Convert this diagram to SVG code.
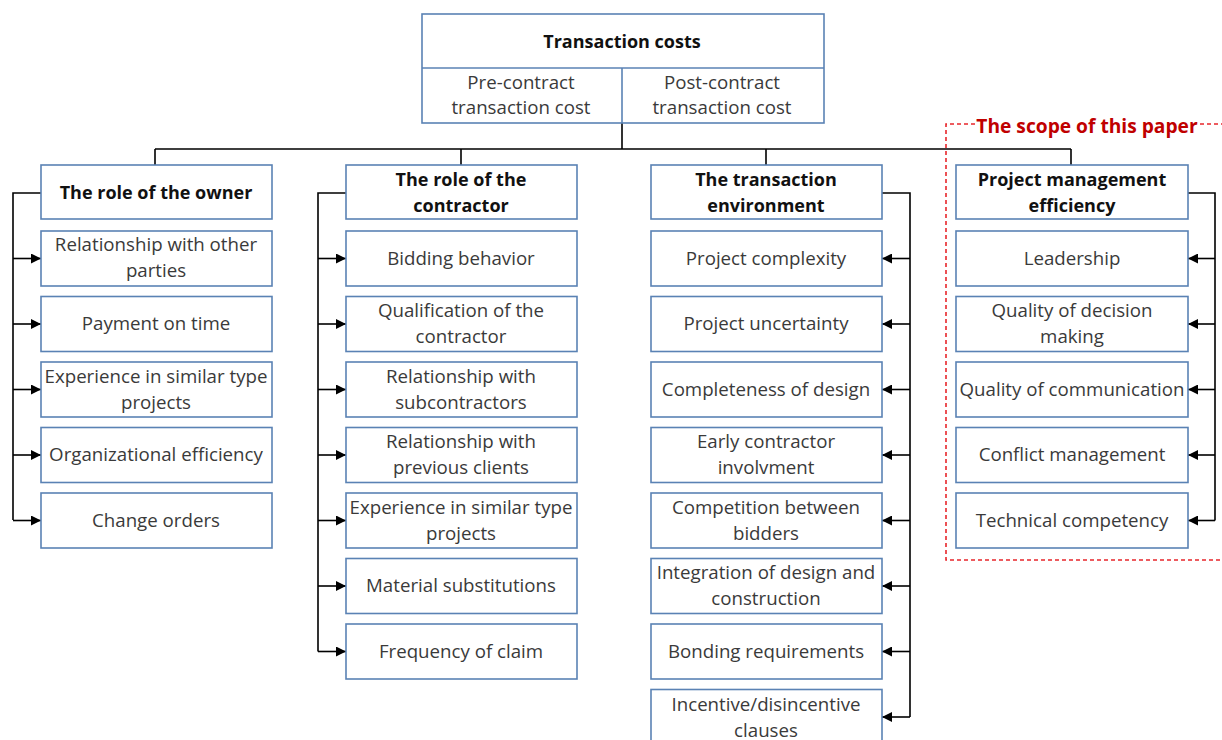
<svg xmlns="http://www.w3.org/2000/svg" width="1222" height="740" viewBox="0 0 1222 740">
<style>
.box{fill:#fff;stroke:#5a82b4;stroke-width:1.6}
.t{font-family:"Open Sans","Liberation Sans",Arial,sans-serif;font-size:18.7px;fill:#3a3a3a;text-anchor:middle}
.h{font-family:"Open Sans","Liberation Sans",Arial,sans-serif;font-size:18px;font-weight:bold;fill:#111;text-anchor:middle}
.c{fill:none;stroke:#000;stroke-width:1.6}
.a{fill:none;stroke:#000;stroke-width:1.6;marker-end:url(#arr)}
</style>
<defs>
<marker id="arr" viewBox="0 0 10 10" refX="10" refY="5" markerWidth="11" markerHeight="10" markerUnits="userSpaceOnUse" orient="auto">
<path d="M0,0 L10,5 L0,10 Z" fill="#000"/>
</marker>
</defs>
<rect width="1222" height="740" fill="#fff"/>

<g id="scope">
<path d="M975,124 L946,124 L946,560 L1222,560" fill="none" stroke="#e8262b" stroke-width="1.6" stroke-dasharray="4,3"/>
<path d="M1200,124 L1222,124" fill="none" stroke="#e8262b" stroke-width="1.6" stroke-dasharray="4,3"/>
<text x="1087" y="133" font-family="Open Sans,Liberation Sans,Arial,sans-serif" font-size="19.2" font-weight="bold" fill="#c00000" text-anchor="middle">The scope of this paper</text>
</g>

<g id="connectors">
<path class="c" d="M622,123 V149 M155,149 H1071 M155,149 V165 M461,149 V165 M766,149 V165 M1071,149 V165"/>
<path class="c" d="M41,193 H13 V520"/>
<path class="a" d="M13,258.5 H41"/>
<path class="a" d="M13,324 H41"/>
<path class="a" d="M13,389.5 H41"/>
<path class="a" d="M13,455 H41"/>
<path class="a" d="M13,520.5 H41"/>
<path class="c" d="M346,193 H318 V651.5"/>
<path class="a" d="M318,258.5 H346"/>
<path class="a" d="M318,324 H346"/>
<path class="a" d="M318,389.5 H346"/>
<path class="a" d="M318,455 H346"/>
<path class="a" d="M318,520.5 H346"/>
<path class="a" d="M318,586 H346"/>
<path class="a" d="M318,651.5 H346"/>
<path class="c" d="M882,193 H910 V717"/>
<path class="a" d="M910,258.5 H882"/>
<path class="a" d="M910,324 H882"/>
<path class="a" d="M910,389.5 H882"/>
<path class="a" d="M910,455 H882"/>
<path class="a" d="M910,520.5 H882"/>
<path class="a" d="M910,586 H882"/>
<path class="a" d="M910,651.5 H882"/>
<path class="a" d="M910,717 H882"/>
<path class="c" d="M1188,193 H1215 V520.5"/>
<path class="a" d="M1215,258.5 H1188"/>
<path class="a" d="M1215,324 H1188"/>
<path class="a" d="M1215,389.5 H1188"/>
<path class="a" d="M1215,455 H1188"/>
<path class="a" d="M1215,520.5 H1188"/>
</g>

<g id="root">
<rect class="box" x="422" y="14" width="402" height="109"/>
<line x1="422" y1="68" x2="824" y2="68" stroke="#5a82b4" stroke-width="1.6"/>
<line x1="622" y1="68" x2="622" y2="123" stroke="#5a82b4" stroke-width="1.6"/>
<text class="h" x="622" y="48">Transaction costs</text>
<text class="t" x="521" y="89">Pre-contract</text>
<text class="t" x="521" y="114">transaction cost</text>
<text class="t" x="722" y="89">Post-contract</text>
<text class="t" x="722" y="114">transaction cost</text>
</g>

<!-- column 1 -->
<g id="owner"><rect class="box" x="41" y="165" width="231" height="54"/><text class="h" x="156" y="199">The role of the owner</text></g>
<g id="o1"><rect class="box" x="41" y="231" width="231" height="55"/><text class="t" x="156" y="251">Relationship with other</text><text class="t" x="156" y="277">parties</text></g>
<g id="o2"><rect class="box" x="41" y="296.5" width="231" height="55"/><text class="t" x="156" y="330">Payment on time</text></g>
<g id="o3"><rect class="box" x="41" y="362" width="231" height="55"/><text class="t" x="156" y="383">Experience in similar type</text><text class="t" x="156" y="409">projects</text></g>
<g id="o4"><rect class="box" x="41" y="427.5" width="231" height="55"/><text class="t" x="156" y="461">Organizational efficiency</text></g>
<g id="o5"><rect class="box" x="41" y="493" width="231" height="55"/><text class="t" x="156" y="527">Change orders</text></g>

<!-- column 2 -->
<g id="contractor"><rect class="box" x="346" y="165" width="231" height="54"/><text class="h" x="461" y="186">The role of the</text><text class="h" x="461" y="212">contractor</text></g>
<g id="c1"><rect class="box" x="346" y="231" width="231" height="55"/><text class="t" x="461" y="265">Bidding behavior</text></g>
<g id="c2"><rect class="box" x="346" y="296.5" width="231" height="55"/><text class="t" x="461" y="317">Qualification of the</text><text class="t" x="461" y="343">contractor</text></g>
<g id="c3"><rect class="box" x="346" y="362" width="231" height="55"/><text class="t" x="461" y="383">Relationship with</text><text class="t" x="461" y="409">subcontractors</text></g>
<g id="c4"><rect class="box" x="346" y="427.5" width="231" height="55"/><text class="t" x="461" y="448">Relationship with</text><text class="t" x="461" y="474">previous clients</text></g>
<g id="c5"><rect class="box" x="346" y="493" width="231" height="55"/><text class="t" x="461" y="514">Experience in similar type</text><text class="t" x="461" y="540">projects</text></g>
<g id="c6"><rect class="box" x="346" y="558.5" width="231" height="55"/><text class="t" x="461" y="592">Material substitutions</text></g>
<g id="c7"><rect class="box" x="346" y="624" width="231" height="55"/><text class="t" x="461" y="658">Frequency of claim</text></g>

<!-- column 3 -->
<g id="environment"><rect class="box" x="651" y="165" width="231" height="54"/><text class="h" x="766" y="186">The transaction</text><text class="h" x="766" y="212">environment</text></g>
<g id="e1"><rect class="box" x="651" y="231" width="231" height="55"/><text class="t" x="766" y="265">Project complexity</text></g>
<g id="e2"><rect class="box" x="651" y="296.5" width="231" height="55"/><text class="t" x="766" y="330">Project uncertainty</text></g>
<g id="e3"><rect class="box" x="651" y="362" width="231" height="55"/><text class="t" x="766" y="396">Completeness of design</text></g>
<g id="e4"><rect class="box" x="651" y="427.5" width="231" height="55"/><text class="t" x="766" y="448">Early contractor</text><text class="t" x="766" y="474">involvment</text></g>
<g id="e5"><rect class="box" x="651" y="493" width="231" height="55"/><text class="t" x="766" y="514">Competition between</text><text class="t" x="766" y="540">bidders</text></g>
<g id="e6"><rect class="box" x="651" y="558.5" width="231" height="55"/><text class="t" x="766" y="579">Integration of design and</text><text class="t" x="766" y="605">construction</text></g>
<g id="e7"><rect class="box" x="651" y="624" width="231" height="55"/><text class="t" x="766" y="658">Bonding requirements</text></g>
<g id="e8"><rect class="box" x="651" y="689.5" width="231" height="55"/><text class="t" x="766" y="711">Incentive/disincentive</text><text class="t" x="766" y="737">clauses</text></g>

<!-- column 4 -->
<g id="pme"><rect class="box" x="956" y="165" width="232" height="54"/><text class="h" x="1072" y="186">Project management</text><text class="h" x="1072" y="212">efficiency</text></g>
<g id="p1"><rect class="box" x="956" y="231" width="232" height="55"/><text class="t" x="1072" y="265">Leadership</text></g>
<g id="p2"><rect class="box" x="956" y="296.5" width="232" height="55"/><text class="t" x="1072" y="317">Quality of decision</text><text class="t" x="1072" y="343">making</text></g>
<g id="p3"><rect class="box" x="956" y="362" width="232" height="55"/><text class="t" x="1072" y="396">Quality of communication</text></g>
<g id="p4"><rect class="box" x="956" y="427.5" width="232" height="55"/><text class="t" x="1072" y="461">Conflict management</text></g>
<g id="p5"><rect class="box" x="956" y="493" width="232" height="55"/><text class="t" x="1072" y="527">Technical competency</text></g>
</svg>
